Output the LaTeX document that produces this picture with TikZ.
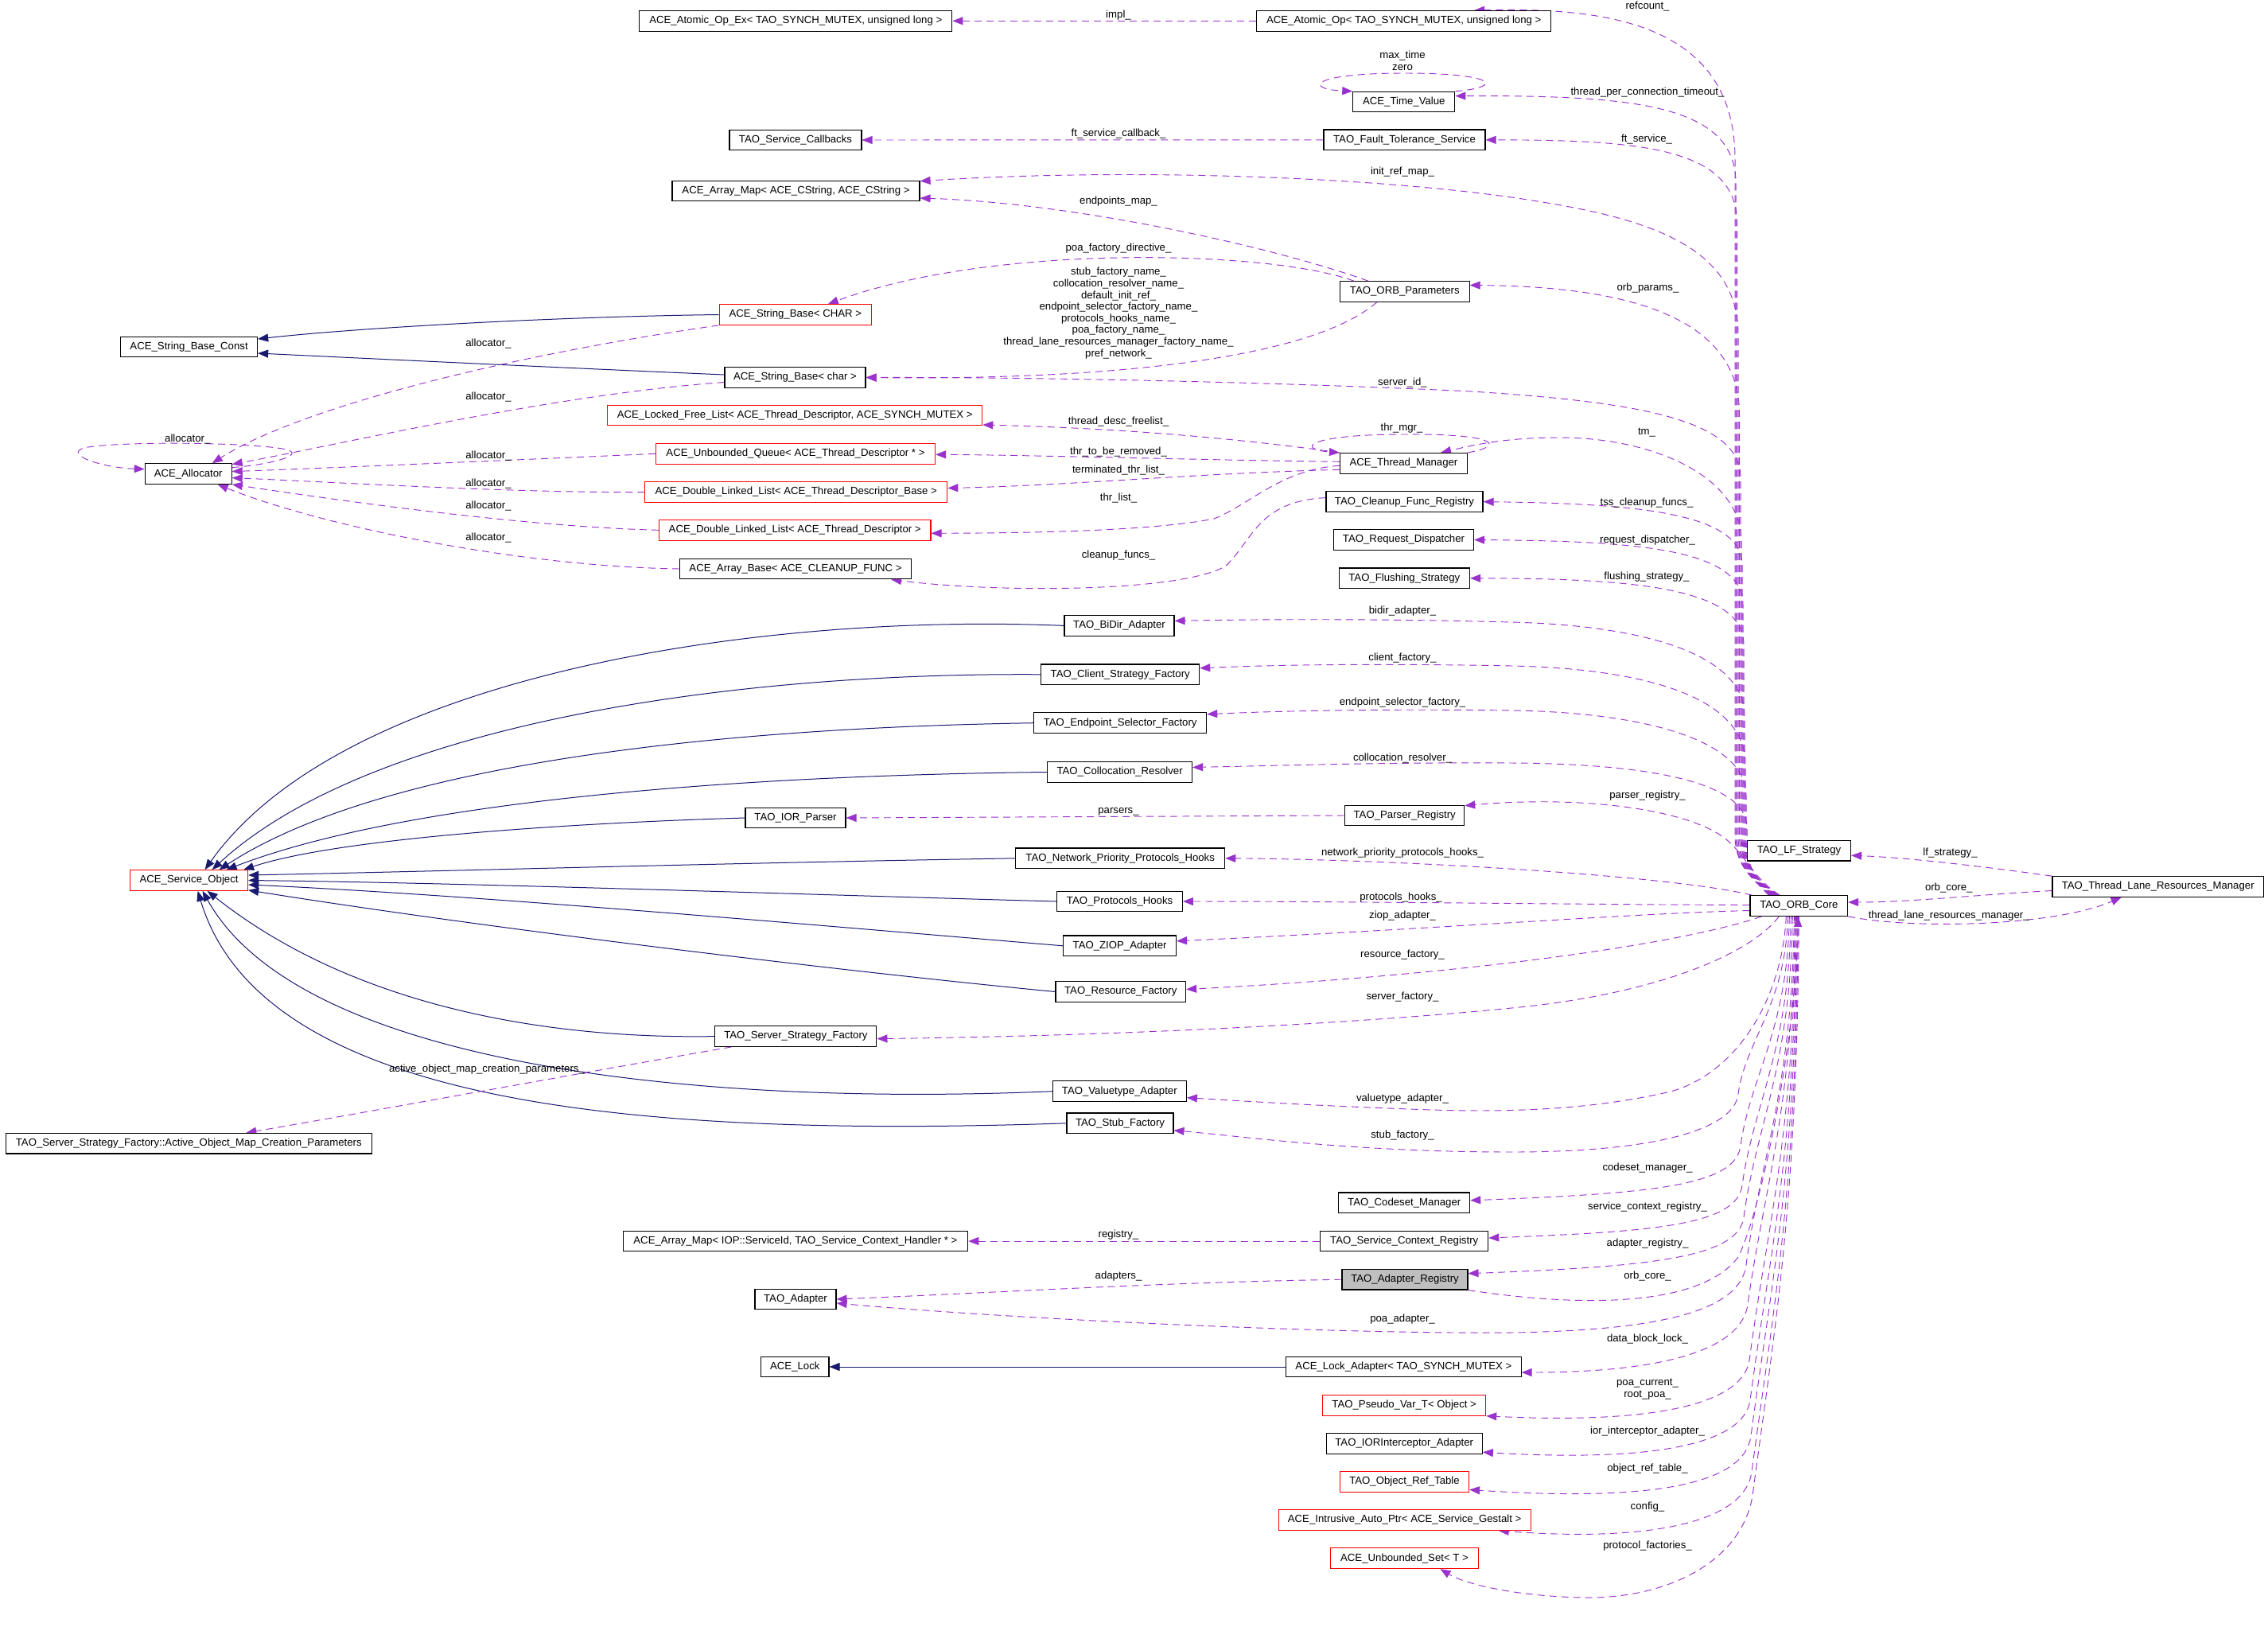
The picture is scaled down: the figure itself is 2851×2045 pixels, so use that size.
\documentclass[tikz,border=0pt]{standalone}
\usepackage{fontspec}
\setmainfont{Liberation Sans}
\usetikzlibrary{arrows.meta,calc}
\definecolor{purp}{RGB}{154,50,205}
\definecolor{navyb}{RGB}{25,25,112}
\definecolor{boxgray}{RGB}{191,191,191}
\pgfdeclarelayer{bgl}
\pgfdeclarelayer{edges}
\pgfsetlayers{bgl,edges,main}
\tikzset{
  cls/.style={draw=black, line width=1.1pt, fill=white, minimum height=25.6pt, inner sep=0pt, font=\fontsize{13.2}{15}\selectfont},
  rcls/.style={cls, draw=red},
  inh/.style={draw=navyb, line width=1pt, -{Triangle[length=13pt,width=10pt]}},
  use/.style={draw=purp, line width=0.95pt, dash pattern=on 9pt off 6pt, -{Triangle[length=13pt,width=10pt]}},
  lbl/.style={font=\fontsize{13.2}{14.6}\selectfont, inner sep=0pt, align=center, text=black}
}
\begin{document}
\begin{tikzpicture}[x=1pt,y=-1pt]
\begin{pgfonlayer}{bgl}
\fill[white] (0,0) rectangle (2851,2045);
\end{pgfonlayer}
\useasboundingbox (0,0) rectangle (2851,2045);

% ---------------- nodes ----------------
\node[cls,minimum width=393pt] (aopex) at (1000.3,26.3) {ACE\_Atomic\_Op\_Ex< TAO\_SYNCH\_MUTEX, unsigned long >};
\node[cls,minimum width=370pt] (aop) at (1764.7,26.3) {ACE\_Atomic\_Op< TAO\_SYNCH\_MUTEX, unsigned long >};
\node[cls,minimum width=128pt] (tv) at (1764.8,128.1) {ACE\_Time\_Value};
\node[cls,minimum width=166pt] (scb) at (1000,176) {TAO\_Service\_Callbacks};
\node[cls,minimum width=203pt] (fts) at (1765.5,175.8) {TAO\_Fault\_Tolerance\_Service};
\node[cls,minimum width=311pt] (amap) at (1000.5,240) {ACE\_Array\_Map< ACE\_CString, ACE\_CString >};
\node[rcls,minimum width=191.5pt] (sbCHAR) at (999.8,395.5) {ACE\_String\_Base< CHAR >};
\node[cls,minimum width=162.5pt] (orbp) at (1765.8,366.5) {TAO\_ORB\_Parameters};
\node[cls,minimum width=172pt] (sbconst) at (237.6,436) {ACE\_String\_Base\_Const};
\node[cls,minimum width=177pt] (sbchar) at (999.5,474.5) {ACE\_String\_Base< char >};
\node[rcls,minimum width=471pt] (lfl) at (999.2,522) {ACE\_Locked\_Free\_List< ACE\_Thread\_Descriptor, ACE\_SYNCH\_MUTEX >};
\node[rcls,minimum width=351pt] (uq) at (1000,570.3) {ACE\_Unbounded\_Queue< ACE\_Thread\_Descriptor * >};
\node[cls,minimum width=160pt] (tmgr) at (1764.5,582.3) {ACE\_Thread\_Manager};
\node[cls,minimum width=109pt] (alloc) at (236.7,595.6) {ACE\_Allocator};
\node[rcls,minimum width=380pt] (dllb) at (1000.8,618.5) {ACE\_Double\_Linked\_List< ACE\_Thread\_Descriptor\_Base >};
\node[cls,minimum width=197pt] (cfr) at (1765.5,630.6) {TAO\_Cleanup\_Func\_Registry};
\node[rcls,minimum width=341.5pt] (dlld) at (999.2,666.3) {ACE\_Double\_Linked\_List< ACE\_Thread\_Descriptor >};
\node[cls,minimum width=176pt] (rd) at (1764.5,678.5) {TAO\_Request\_Dispatcher};
\node[cls,minimum width=291pt] (abase) at (1000,715) {ACE\_Array\_Base< ACE\_CLEANUP\_FUNC >};
\node[cls,minimum width=164.5pt] (fs) at (1765.3,726.8) {TAO\_Flushing\_Strategy};
\node[cls,minimum width=138pt] (bidir) at (1407,786.4) {TAO\_BiDir\_Adapter};
\node[cls,minimum width=199pt] (csf) at (1408.2,847.8) {TAO\_Client\_Strategy\_Factory};
\node[cls,minimum width=217pt] (esf) at (1408.2,908.7) {TAO\_Endpoint\_Selector\_Factory};
\node[cls,minimum width=182pt] (cr) at (1407.6,970.5) {TAO\_Collocation\_Resolver};
\node[cls,minimum width=150pt] (parser) at (1765.7,1025) {TAO\_Parser\_Registry};
\node[cls,minimum width=126pt] (iorp) at (1000,1028) {TAO\_IOR\_Parser};
\node[cls,minimum width=130pt] (lfs) at (2261.5,1069.2) {TAO\_LF\_Strategy};
\node[cls,minimum width=263pt] (nph) at (1408.2,1078.8) {TAO\_Network\_Priority\_Protocols\_Hooks};
\node[rcls,minimum width=148pt] (aso) at (237.6,1106.5) {ACE\_Service\_Object};
\node[cls,minimum width=265.5pt] (tlrm) at (2712.7,1114.5) {TAO\_Thread\_Lane\_Resources\_Manager};
\node[cls,minimum width=157.6pt] (ph) at (1407.6,1133) {TAO\_Protocols\_Hooks};
\node[cls,minimum width=122.7pt] (orb) at (2261.3,1138.5) {TAO\_ORB\_Core};
\node[cls,minimum width=141.8pt] (ziop) at (1407.6,1188.8) {TAO\_ZIOP\_Adapter};
\node[cls,minimum width=163.6pt] (rf) at (1408.8,1246.5) {TAO\_Resource\_Factory};
\node[cls,minimum width=203pt] (ssf) at (1000.4,1302.6) {TAO\_Server\_Strategy\_Factory};
\node[cls,minimum width=168pt] (vt) at (1407.3,1371.7) {TAO\_Valuetype\_Adapter};
\node[cls,minimum width=134pt] (stub) at (1408,1411.8) {TAO\_Stub\_Factory};
\node[cls,minimum width=460pt] (aomcp) at (237.3,1437.2) {TAO\_Server\_Strategy\_Factory::Active\_Object\_Map\_Creation\_Parameters};
\node[cls,minimum width=165pt] (csm) at (1765.2,1511.8) {TAO\_Codeset\_Manager};
\node[cls,minimum width=433.7pt] (amapiop) at (999.9,1560) {ACE\_Array\_Map< IOP::ServiceId, TAO\_Service\_Context\_Handler * >};
\node[cls,minimum width=211pt] (scr) at (1765.2,1560) {TAO\_Service\_Context\_Registry};
\node[cls,fill=boxgray,minimum width=158pt] (ar) at (1766,1608.2) {TAO\_Adapter\_Registry};
\node[cls,minimum width=102pt] (ad) at (1000,1633) {TAO\_Adapter};
\node[cls,minimum width=85.3pt] (lock) at (999.3,1718) {ACE\_Lock};
\node[cls,minimum width=295.3pt] (la) at (1764.4,1718) {ACE\_Lock\_Adapter< TAO\_SYNCH\_MUTEX >};
\node[rcls,minimum width=205pt] (pv) at (1765.2,1766.4) {TAO\_Pseudo\_Var\_T< Object >};
\node[cls,minimum width=196.3pt] (iori) at (1765.2,1814.3) {TAO\_IORInterceptor\_Adapter};
\node[rcls,minimum width=162pt] (ort) at (1765.5,1862.4) {TAO\_Object\_Ref\_Table};
\node[rcls,minimum width=317pt] (iap) at (1765.6,1910.5) {ACE\_Intrusive\_Auto\_Ptr< ACE\_Service\_Gestalt >};
\node[rcls,minimum width=186pt] (us) at (1765.5,1958.7) {ACE\_Unbounded\_Set< T >};

% ---------------- edges ----------------
\begin{pgfonlayer}{edges}
% inheritance
\draw[inh] (sbCHAR.west) .. controls (700,398) and (450,412) .. ([yshift=10pt]sbconst.east);
\draw[inh] ([yshift=3.5pt]sbchar.west) .. controls (700,462) and (450,450) .. ([yshift=-8pt]sbconst.east);
\draw[inh] (bidir.west) .. controls (950,770) and (430,850) .. ([xshift=20pt]aso.north);
\draw[inh] (csf.west) .. controls (900,845) and (460,915) .. ([xshift=29pt]aso.north);
\draw[inh] (esf.west) .. controls (900,915) and (480,960) .. ([xshift=38pt]aso.north);
\draw[inh] (cr.west) .. controls (900,975) and (500,1010) .. ([xshift=47pt]aso.north);
\draw[inh] (iorp.west) .. controls (700,1035) and (420,1055) .. ([xshift=-6pt]aso.north east);
\draw[inh] (nph.west) .. controls (900,1085) and (600,1094) .. ([yshift=6.5pt]aso.east);
\draw[inh] (ph.west) .. controls (1000,1124) and (600,1110) .. (aso.east);
\draw[inh] (ziop.west) .. controls (1050,1165) and (600,1125) .. ([yshift=-5.5pt]aso.east);
\draw[inh] (rf.west) .. controls (1050,1220) and (600,1165) .. ([yshift=1pt]aso.south east);
\draw[inh] (ssf.west) .. controls (700,1306) and (450,1270) .. ([xshift=23pt]aso.south);
\draw[inh] (vt.west) .. controls (900,1390) and (380,1345) .. ([xshift=17pt]aso.south);
\draw[inh] (stub.west) .. controls (800,1430) and (330,1390) .. ([xshift=11pt]aso.south);
\draw[inh] (la.west) -- (lock.east);

% simple usage edges
\draw[use] (aop.west) -- (aopex.east);
\draw[use] (fts.west) -- (scb.east);
\draw[use] ([xshift=-46pt]orbp.north) .. controls (1600,310) and (1350,255) .. ([yshift=-9pt]amap.east);
\draw[use] ([xshift=-64pt]orbp.north) .. controls (1600,315) and (1250,305) .. ([xshift=41pt]sbCHAR.north);
\draw[use] ([xshift=-35pt]orbp.south) .. controls (1650,450) and (1400,478) .. (sbchar.east);
\draw[use] (tmgr.north west) .. controls (1550,550) and (1400,538) .. ([yshift=-12pt]lfl.east);
\draw[use] ([yshift=2pt]tmgr.west) .. controls (1500,578) and (1300,572) .. ([yshift=-1pt]uq.east);
\draw[use] ([yshift=-8pt]tmgr.west) .. controls (1500,595) and (1350,610) .. ([yshift=5pt]dllb.east);
\draw[use] ([yshift=-3pt]tmgr.west) .. controls (1610,590) and (1570,635) .. (1526,652) .. controls (1450,667) and (1300,670) .. ([yshift=-4pt]dlld.east);
\draw[use] ([yshift=5pt]cfr.west) .. controls (1580,630) and (1575,680) .. (1540,712) .. controls (1480,745) and (1250,745) .. ([xshift=-26pt]abase.south east);
\draw[use] (tmgr.north east) .. controls (1895,560) and (1880,545) .. (1765,546) .. controls (1640,546) and (1630,565) .. (tmgr.north west);
\draw[use] (tv.north east) .. controls (1890,110) and (1885,92) .. (1765,92) .. controls (1645,92) and (1640,112) .. (tv.north west);
\draw[use] (parser.west) -- (iorp.east);
\draw[use] (scr.west) -- (amapiop.east);
\draw[use] (ar.west) .. controls (1450,1612) and (1250,1625) .. (ad.east);
\draw[use] ([xshift=21pt]ssf.south west) .. controls (750,1345) and (450,1400) .. ([xshift=72pt]aomcp.north);

% allocator edges
\draw[use] (sbCHAR.south west) .. controls (650,445) and (380,510) .. ([xshift=30pt]alloc.north);
\draw[use] ([yshift=-6pt]sbchar.west) .. controls (700,495) and (420,560) .. ([yshift=12pt]alloc.east);
\draw[use] ([yshift=8pt]alloc.east) .. controls (340,584) and (385,572) .. (360,565) .. controls (320,556) and (150,554) .. (105,563) .. controls (80,572) and (130,588) .. ([yshift=6pt]alloc.west);
\draw[use] (uq.west) .. controls (650,578) and (420,588) .. ([yshift=3pt]alloc.east);
\draw[use] (dllb.west) .. controls (650,620) and (400,605) .. ([yshift=-5pt]alloc.east);
\draw[use] (dlld.west) .. controls (650,662) and (400,625) .. (alloc.south east);
\draw[use] (abase.west) .. controls (650,712) and (400,660) .. ([xshift=37pt]alloc.south);

% TLRM edges
\draw[use] (tlrm.north west) .. controls (2500,1090) and (2400,1078) .. ([yshift=-6pt]lfs.east);
\draw[use] ([yshift=-5pt]tlrm.west) .. controls (2480,1125) and (2400,1134) .. ([yshift=4.5pt]orb.east);
\draw[use] (orb.south east) .. controls (2400,1168) and (2580,1165) .. ([xshift=-46pt]tlrm.south);

% upper bundle from ORB core
\draw[use] ([xshift=-38pt]orb.north) .. controls (2205,1105) and (2181,1090) .. (2181,1050) -- (2181,200) .. controls (2181,20) and (2000,10) .. ([xshift=-97pt]aop.north east);
\draw[use] ([xshift=-37pt]orb.north) .. controls (2205,1105) and (2182,1090) .. (2182,1050) -- (2182,230) .. controls (2182,130) and (2050,120) .. ([yshift=7.5pt]tv.east);
\draw[use] ([xshift=-36pt]orb.north) .. controls (2205,1105) and (2183.5,1090) .. (2183.5,1050) -- (2183.5,280) .. controls (2183.5,185) and (2060,176) .. (fts.east);
\draw[use] ([xshift=-35pt]orb.north) .. controls (2205,1105) and (2185,1090) .. (2185,1050) -- (2185,420) .. controls (2185,300) and (2050,270) .. (1900,248) .. controls (1700,220) and (1400,212) .. ([yshift=-1pt]amap.north east);
\draw[use] ([xshift=-34pt]orb.north) .. controls (2205,1105) and (2186.5,1090) .. (2186.5,1050) -- (2186.5,520) .. controls (2186.5,400) and (2050,360) .. ([yshift=8pt]orbp.east);
\draw[use] ([xshift=-33pt]orb.north) .. controls (2205,1105) and (2188,1090) .. (2188,1050) -- (2188,600) .. controls (2188,525) and (2050,505) .. (1850,492) .. controls (1600,480) and (1300,474) .. (sbchar.east);
\draw[use] ([xshift=-32pt]orb.north) .. controls (2205,1105) and (2189,1090) .. (2189,1050) -- (2189,680) .. controls (2189,600) and (2080,550) .. (1960,550) .. controls (1890,550) and (1850,560) .. ([xshift=-34pt]tmgr.north east);
\draw[use] ([xshift=-31pt]orb.north) .. controls (2205,1105) and (2190,1090) .. (2190,1050) -- (2190,710) .. controls (2190,645) and (2060,633) .. (cfr.east);
\draw[use] ([xshift=-30pt]orb.north) .. controls (2205,1105) and (2191,1090) .. (2191,1050) -- (2191,760) .. controls (2191,690) and (2060,680) .. (rd.east);
\draw[use] ([xshift=-29pt]orb.north) .. controls (2205,1105) and (2192,1090) .. (2192,1050) -- (2192,810) .. controls (2192,740) and (2060,727) .. (fs.east);
\draw[use] ([xshift=-28pt]orb.north) .. controls (2205,1105) and (2193,1090) .. (2193,1050) -- (2193,900) .. controls (2193,820) and (2060,786) .. (1900,782) .. controls (1750,778) and (1600,778) .. ([yshift=6pt]bidir.east);
\draw[use] ([xshift=-27pt]orb.north) .. controls (2205,1105) and (2194,1090) .. (2194,1050) -- (2194,960) .. controls (2194,870) and (2050,840) .. (1900,837) .. controls (1750,834) and (1620,835) .. ([yshift=8pt]csf.east);
\draw[use] ([xshift=-26pt]orb.north) .. controls (2205,1105) and (2195,1090) .. (2195,1050) -- (2195,1000) .. controls (2195,925) and (2050,895) .. (1900,893) .. controls (1750,891) and (1620,893) .. ([yshift=11pt]esf.east);
\draw[use] ([xshift=-25pt]orb.north) .. controls (2205,1105) and (2196,1090) .. (2196,1060) -- (2196,1040) .. controls (2196,980) and (2060,960) .. (1900,959) .. controls (1750,958) and (1620,962) .. ([yshift=6pt]cr.east);
\draw[use] ([xshift=-24pt]orb.north) .. controls (2205,1105) and (2194,1075) .. (2170,1055) .. controls (2120,1015) and (1980,1000) .. ([yshift=-1pt]parser.north east);

% edges leaving ORB core to the left
\draw[use] ([xshift=3pt]orb.north west) .. controls (2100,1100) and (1750,1080) .. (nph.east);
\draw[use] ([yshift=1pt]orb.west) .. controls (2000,1137) and (1700,1133) .. (ph.east);
\draw[use] ([yshift=-6pt]orb.west) .. controls (2050,1148) and (1800,1168) .. ([yshift=6pt]ziop.east);
\draw[use] ([xshift=15pt]orb.south west) .. controls (2120,1185) and (1850,1225) .. ([yshift=3pt]rf.east);
\draw[use] ([xshift=-25pt]orb.south) .. controls (2200,1200) and (2080,1250) .. (1900,1267) .. controls (1700,1287) and (1400,1302) .. ([yshift=-3pt]ssf.east);
\draw[use] ([xshift=-16pt]orb.south) .. controls (2240,1260) and (2180,1350) .. (2100,1372) .. controls (2000,1395) and (1900,1398) .. (1800,1395) .. controls (1650,1390) and (1550,1383) .. ([yshift=-8pt]vt.east);

% lower bundle from ORB core
\draw[use] ([xshift=-14pt]orb.south) .. controls (2245,1263) and (2194,1308) .. (2185,1375) .. controls (2180,1420) and (2080,1448) .. (1900,1448) .. controls (1700,1448) and (1560,1428) .. ([yshift=-9pt]stub.east);
\draw[use] ([xshift=-12pt]orb.south) .. controls (2247,1296) and (2200,1353) .. (2188,1440) .. controls (2182,1490) and (2080,1500) .. ([yshift=3pt]csm.east);
\draw[use] ([xshift=-10pt]orb.south) .. controls (2249,1321) and (2204,1388) .. (2190,1490) .. controls (2183,1540) and (2080,1548) .. ([yshift=4pt]scr.east);
\draw[use] ([xshift=-8pt]orb.south) .. controls (2251,1341) and (2207,1416) .. (2192,1530) .. controls (2185,1580) and (2080,1592) .. ([yshift=7.5pt]ar.east);
\draw[use] (ar.south east) .. controls (2000,1645) and (2140,1640) .. (2185,1580) .. controls (2215,1520) and (2258,1300) .. ([xshift=-1pt]orb.south);
\draw[use] ([xshift=-6pt]orb.south) .. controls (2253,1371) and (2212,1458) .. (2195,1590) .. controls (2187,1650) and (2080,1672) .. (1900,1675) .. controls (1700,1677) and (1300,1660) .. ([yshift=-5pt]ad.east);
\draw[use] ([xshift=-5pt]orb.south) .. controls (2254,1396) and (2217,1493) .. (2197,1640) .. controls (2188,1700) and (2080,1725) .. ([yshift=-7pt]la.east);
\draw[use] ([xshift=-4pt]orb.south) .. controls (2255,1431) and (2221,1542) .. (2199,1710) .. controls (2190,1765) and (2080,1790) .. (pv.south east);
\draw[use] ([xshift=-3pt]orb.south) .. controls (2256,1456) and (2224,1577) .. (2200,1760) .. controls (2192,1815) and (2080,1838) .. ([yshift=-11pt]iori.east);
\draw[use] ([xshift=-2pt]orb.south) .. controls (2257,1478) and (2227,1609) .. (2201,1805) .. controls (2193,1865) and (2080,1888) .. ([yshift=-10pt]ort.east);
\draw[use] ([xshift=-1pt]orb.south) .. controls (2258,1500) and (2230,1640) .. (2202,1850) .. controls (2193,1915) and (2070,1938) .. ([xshift=-41pt]iap.south east);
\draw[use] (orb.south) .. controls (2259,1515) and (2232,1661) .. (2203,1880) .. controls (2190,1960) and (2100,2010) .. (1990,2008) .. controls (1900,2006) and (1840,1990) .. ([xshift=45pt]us.south);
\end{pgfonlayer}

% ---------------- labels ----------------
\node[lbl] (l01) at (1406,18.7) {impl\_};
\node[lbl] (l02) at (2071,7.6) {refcount\_};
\node[lbl] (l03) at (1763,76) {max\_time\\zero};
\node[lbl] (l04) at (2071,115.6) {thread\_per\_connection\_timeout\_};
\node[lbl] (l05) at (1406,168) {ft\_service\_callback\_};
\node[lbl] (l06) at (2070,175.4) {ft\_service\_};
\node[lbl] (l07) at (1763,215.6) {init\_ref\_map\_};
\node[lbl] (l08) at (1406,253) {endpoints\_map\_};
\node[lbl] (l09) at (1406,312.5) {poa\_factory\_directive\_};
\node[lbl] (l10) at (1406,393.5) {stub\_factory\_name\_\\collocation\_resolver\_name\_\\default\_init\_ref\_\\endpoint\_selector\_factory\_name\_\\protocols\_hooks\_name\_\\poa\_factory\_name\_\\thread\_lane\_resources\_manager\_factory\_name\_\\pref\_network\_};
\node[lbl] (l11) at (2071.5,362.5) {orb\_params\_};
\node[lbl] (l12) at (1763,480.8) {server\_id\_};
\node[lbl] (l13) at (1406,530.4) {thread\_desc\_freelist\_};
\node[lbl] (l14) at (1762,538.5) {thr\_mgr\_};
\node[lbl] (l15) at (2070,543.75) {tm\_};
\node[lbl] (l16) at (1406,567.9) {thr\_to\_be\_removed\_};
\node[lbl] (l17) at (1406,591.5) {terminated\_thr\_list\_};
\node[lbl] (l18) at (1406,626.3) {thr\_list\_};
\node[lbl] (l19) at (2070,631.7) {tss\_cleanup\_funcs\_};
\node[lbl] (l20) at (2071,679.5) {request\_dispatcher\_};
\node[lbl] (l21) at (1406,698) {cleanup\_funcs\_};
\node[lbl] (l22) at (2070,724.6) {flushing\_strategy\_};
\node[lbl] (l23) at (1763,768.3) {bidir\_adapter\_};
\node[lbl] (l24) at (1763,826.8) {client\_factory\_};
\node[lbl] (l25) at (1763,883.5) {endpoint\_selector\_factory\_};
\node[lbl] (l26) at (1763,952.7) {collocation\_resolver\_};
\node[lbl] (l27) at (2071,1000.5) {parser\_registry\_};
\node[lbl] (l28) at (1406,1020) {parsers\_};
\node[lbl] (l29) at (2451.5,1072) {lf\_strategy\_};
\node[lbl] (l30) at (1763,1072.3) {network\_priority\_protocols\_hooks\_};
\node[lbl] (l31) at (2449.7,1116.5) {orb\_core\_};
\node[lbl] (l32) at (1761,1127.7) {protocols\_hooks\_};
\node[lbl] (l33) at (1763,1150.9) {ziop\_adapter\_};
\node[lbl] (l34) at (2449.7,1151) {thread\_lane\_resources\_manager\_};
\node[lbl] (l35) at (1763,1200) {resource\_factory\_};
\node[lbl] (l36) at (1763,1252.7) {server\_factory\_};
\node[lbl] (l37) at (612,1343.75) {active\_object\_map\_creation\_parameters\_};
\node[lbl] (l38) at (1763,1380.8) {valuetype\_adapter\_};
\node[lbl] (l39) at (1763,1426.7) {stub\_factory\_};
\node[lbl] (l40) at (2071,1468.3) {codeset\_manager\_};
\node[lbl] (l41) at (2071,1516.8) {service\_context\_registry\_};
\node[lbl] (l42) at (1406,1552) {registry\_};
\node[lbl] (l43) at (2071,1563) {adapter\_registry\_};
\node[lbl] (l44) at (1406,1604.4) {adapters\_};
\node[lbl] (l45) at (2071,1604.5) {orb\_core\_};
\node[lbl] (l46) at (1763,1658.3) {poa\_adapter\_};
\node[lbl] (l47) at (2071,1682.6) {data\_block\_lock\_};
\node[lbl] (l48) at (2071,1746) {poa\_current\_\\root\_poa\_};
\node[lbl] (l49) at (2071,1798.6) {ior\_interceptor\_adapter\_};
\node[lbl] (l50) at (2071,1846) {object\_ref\_table\_};
\node[lbl] (l51) at (2071,1894.4) {config\_};
\node[lbl] (l52) at (2071,1943) {protocol\_factories\_};
\node[lbl] (l53) at (614,431.7) {allocator\_};
\node[lbl] (l54) at (614,498.7) {allocator\_};
\node[lbl] (l55) at (235.8,551.8) {allocator\_};
\node[lbl] (l56) at (614,572.8) {allocator\_};
\node[lbl] (l57) at (614,608) {allocator\_};
\node[lbl] (l58) at (614,636) {allocator\_};
\node[lbl] (l59) at (614,676) {allocator\_};
\end{tikzpicture}
\end{document}
